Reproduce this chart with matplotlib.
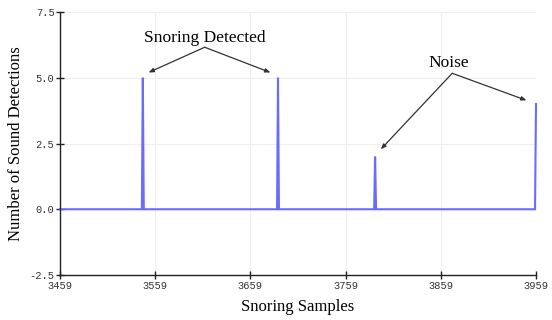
import matplotlib
matplotlib.use("Agg")
import matplotlib.pyplot as plt

# detection counts per snoring sample (only the points where the trace changes)
samples = [3459, 3545, 3546, 3547, 3687, 3688, 3689, 3789, 3790, 3791, 3958, 3959]
counts = [0, 0, 5, 0, 0, 5, 0, 0, 2, 0, 0, 4]

x_ticks = [3459, 3559, 3659, 3759, 3859, 3959]
y_ticks = [-2.5, 0.0, 2.5, 5.0, 7.5]

fig = plt.figure(figsize=(5.52, 3.2), dpi=100)
ax = fig.add_axes([0.1087, 0.1406, 0.8623, 0.8219])

ax.plot(samples, counts, color="#6b6bff", lw=1.5, solid_joinstyle="miter",
        clip_on=False)

ax.set_xlim(x_ticks[0], x_ticks[-1])
ax.set_ylim(y_ticks[0], y_ticks[-1])
ax.set_xticks(x_ticks)
ax.set_yticks(y_ticks)
ax.set_yticklabels([f"{v:.1f}" for v in y_ticks])
ax.grid(True, color="#eeeeee", lw=0.8)
ax.set_axisbelow(True)

for s in ["top", "right"]:
    ax.spines[s].set_visible(False)
for s in ["left", "bottom"]:
    ax.spines[s].set_color("#222222")
    ax.spines[s].set_linewidth(1.0)

ax.tick_params(direction="inout", length=6, width=1, color="#222222",
               labelsize=7.5, pad=1)
for lab in ax.get_xticklabels() + ax.get_yticklabels():
    lab.set_family("Liberation Mono")
    lab.set_color("#333333")

serif = "Liberation Serif"
ax.set_xlabel("Snoring Samples", family=serif, fontsize=12, labelpad=6)
ax.set_ylabel("Number of Sound Detections", family=serif, fontsize=12, labelpad=4)

arrow = dict(arrowstyle="-|>,head_length=0.3,head_width=0.12", color="#333333",
             lw=0.9, shrinkA=0, shrinkB=0)

ax.text(3611, 6.2, "Snoring Detected", family=serif, fontsize=12.5,
        ha="center", va="bottom")
ax.annotate("", xy=(3552, 5.2), xytext=(3611, 6.16), arrowprops=arrow)
ax.annotate("", xy=(3680, 5.2), xytext=(3611, 6.16), arrowprops=arrow)

ax.text(3867, 5.25, "Noise", family=serif, fontsize=12.5,
        ha="center", va="bottom")
ax.annotate("", xy=(3796, 2.28), xytext=(3871, 5.17), arrowprops=arrow)
ax.annotate("", xy=(3949, 4.14), xytext=(3871, 5.17), arrowprops=arrow)

fig.savefig("out.png", dpi=100)
